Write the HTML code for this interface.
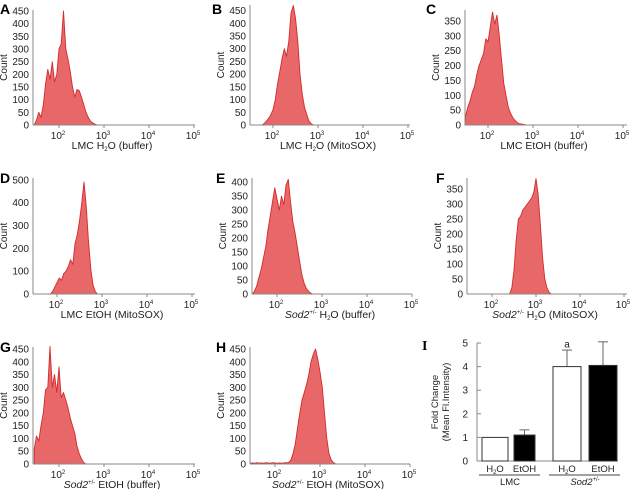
<!DOCTYPE html>
<html><head><meta charset="utf-8"><style>
html,body{margin:0;padding:0;background:#fff}
svg{display:block;font-family:"Liberation Sans",Arial,sans-serif}
</style></head><body>
<svg id="fig" width="630" height="489" viewBox="0 0 630 489"></svg>
<script>
// ---- histogram data (log10 bins, width 0.05) ----
const startA = 1.45;
const countsA = [0,20,50,30,80,160,220,180,250,170,200,300,320,450,300,260,210,150,110,140,135,110,80,50,30,15,8,3,0];
const startB = 1.75;
const countsB = [0,5,15,25,40,60,100,160,210,260,300,270,330,440,470,420,330,200,120,70,40,15,5,0];
const startC = 1.45;
const countsC = [10,30,60,80,110,130,170,200,220,240,290,280,330,380,340,370,300,220,140,100,60,40,25,15,8,4,3,2,0];
const startD = 1.85;
const countsD = [0,10,30,50,70,60,90,100,120,150,130,220,260,320,400,490,380,230,110,40,10,0];
const startE = 1.45;
const countsE = [0,10,30,60,90,130,170,230,280,330,380,340,300,350,320,390,410,330,260,220,170,120,70,40,20,10,3,0];
const startF = 2.4;
const countsF = [0,20,80,180,250,260,280,290,300,310,320,340,385,330,230,120,50,20,5,0];
const startG = 1.45;
const countsG = [60,110,90,150,200,290,300,460,300,350,280,380,260,280,250,220,180,150,120,70,40,20,5,0];
const startH = 1.45;
const countsH = [3,4,3,5,3,4,3,5,4,3,5,4,3,4,3,4,5,5,15,40,80,140,200,250,280,310,350,400,430,450,410,360,300,200,100,40,15,5,0];
const yTicksD = [0,100,200,300,400,500];
const yTicksStd = [0,50,100,150,200,250,300,350,400,450];
const xTickExps = [2,3,4,5];

// ---- bar chart data ----
const barGroups = ["LMC","Sod2"];
const barCats = ["H2O","EtOH","H2O","EtOH"];
const barValues = [1.0,1.1,4.0,4.05];
const barErrors = [0,0.22,0.7,1.0];
const barTicks = [0,1,2,3,4,5];

const NS="http://www.w3.org/2000/svg";
const svg=document.getElementById('fig');
function mk(tag,attrs,parent){const e=document.createElementNS(NS,tag);for(const k in attrs)e.setAttribute(k,attrs[k]);(parent||svg).appendChild(e);return e;}

const panels=[
 {id:'a',L:'A',lx:0,ly:14,ax:33,x2:59,dec:45,right:195,y0:125,yt:10,ymax:454,ticks:yTicksStd,tmax:450,start:startA,data:countsA,t:['LMC ','H2O',' (buffer)'],sod:false},
 {id:'b',L:'B',lx:212,ly:14,ax:250,x2:273,dec:45,right:410,y0:125,yt:5,ymax:472,ticks:yTicksStd,tmax:450,start:startB,data:countsB,t:['LMC ','H2O',' (MitoSOX)'],sod:false},
 {id:'c',L:'C',lx:426,ly:14,ax:465,x2:488,dec:45,right:627,y0:125,yt:10,ymax:387,ticks:yTicksStd,tmax:350,start:startC,data:countsC,t:['LMC EtOH (buffer)'],sod:false},
 {id:'d',L:'D',lx:0,ly:183,ax:33,x2:57,dec:45,right:195,y0:294,yt:178,ymax:508,ticks:yTicksD,tmax:500,start:startD,data:countsD,t:['LMC EtOH (MitoSOX)'],sod:false},
 {id:'e',L:'E',lx:216,ly:183,ax:252,x2:277,dec:45,right:412,y0:294,yt:178,ymax:415,ticks:yTicksStd,tmax:400,start:startE,data:countsE,t:['H2O',' (buffer)'],sod:true},
 {id:'f',L:'F',lx:436,ly:183,ax:467,x2:492,dec:44,right:627,y0:294,yt:178,ymax:387,ticks:yTicksStd,tmax:350,start:startF,data:countsF,t:['H2O',' (MitoSOX)'],sod:true},
 {id:'g',L:'G',lx:0,ly:352,ax:33,x2:59,dec:45,right:195,y0:464,yt:347,ymax:458,ticks:yTicksStd,tmax:450,start:startG,data:countsG,t:['EtOH (buffer)'],sod:true},
 {id:'h',L:'H',lx:216,ly:352,ax:250,x2:275,dec:45,right:410,y0:464,yt:347,ymax:458,ticks:yTicksStd,tmax:450,start:startH,data:countsH,t:['EtOH (MitoSOX)'],sod:true}
];

panels.forEach(p=>{
 const g=mk('g',{});
 
 
 const xs=lg=>p.x2+(lg-2)*p.dec;
 const ys=v=>p.y0-(v/p.ymax)*(p.y0-p.yt);
 const lab=mk('text',{x:p.lx,y:p.ly,'font-size':14,'font-weight':'bold',fill:'#000'},g);
 lab.textContent=p.L;
 
 
 let pts=[];
 const x0=Math.max(p.ax,xs(p.start));
 pts.push(x0+','+p.y0);
 p.data.forEach((v,i)=>{const lg=p.start+i*0.05;const x=xs(lg);if(x>=p.ax)pts.push(x.toFixed(1)+','+ys(v).toFixed(1));});
 pts.push(xs(p.start+(p.data.length-1)*0.05).toFixed(1)+','+p.y0);
 const poly=mk('polygon',{points:pts.join(' '),fill:'#e8686a',stroke:'#d42a2a','stroke-width':0.9,'stroke-linejoin':'round'},g);
 
 
 const yax=mk('line',{x1:p.ax,y1:p.yt,x2:p.ax,y2:p.y0,stroke:'#888','stroke-width':1},g);
 
 
 const xax=mk('line',{x1:p.ax,y1:p.y0,x2:p.right,y2:p.y0,stroke:'#888','stroke-width':1},g);
 
 
 p.ticks.filter(t=>t<=p.tmax).forEach(t=>{
  const tt=mk('text',{x:p.ax-4,y:ys(t)+3.5,'font-size':10,'text-anchor':'end',fill:'#222'},g);
  tt.textContent=t;
  
  
 });
 xTickExps.forEach(e=>{
  const x=xs(e);
  mk('line',{x1:x,y1:p.y0,x2:x,y2:p.y0+3,stroke:'#888'},g);
  const tt=mk('text',{x:x-1,y:p.y0+14,'font-size':10,'text-anchor':'middle',fill:'#222'},g);
  
  
  tt.appendChild(document.createTextNode('10'));
  const s=mk('tspan',{'font-size':6,dy:-4},tt);s.textContent=e;
 });
 const ct=mk('text',{x:0,y:0,'font-size':10,'text-anchor':'middle',fill:'#222',transform:`translate(${p.ax-26},${(p.yt+p.y0)/2}) rotate(-90)`},g);
 ct.textContent='Count';
 
 
 const tt=mk('text',{x:(p.ax+p.right)/2-2,y:p.y0+24,'font-size':10.5,'text-anchor':'middle',fill:'#222'},g);
 
 
 if(p.sod){
  const a=mk('tspan',{'font-style':'italic'},tt);a.textContent='Sod2';
  const b=mk('tspan',{'font-size':6,dy:-4},tt);b.textContent='+/-';
  const c=mk('tspan',{dy:4},tt);c.textContent='\u00a0';
 }
 p.t.forEach(s=>{
  if(s==='H2O'){
   const h=mk('tspan',{},tt);h.textContent='H';
   const two=mk('tspan',{'font-size':6,dy:2},tt);two.textContent='2';
   const o=mk('tspan',{dy:-2},tt);o.textContent='O';
  } else {const s1=mk('tspan',{},tt);s1.textContent=s;}
 });
});

// ---- bar chart ----
(function(){
 const g=mk('g',{});
 
 
 const ax=477,y0=461,y5=343,right=618;
 const ys=v=>y0-v*(y0-y5)/5;
 const xl=[482,514,553,589],bw=[26,21,28,28];
 const lab=mk('text',{x:422,y:350,'font-size':14,'font-weight':'bold','font-family':'Liberation Serif,serif',fill:'#000'},g);
 lab.textContent='I';
 
 
 mk('line',{x1:ax,y1:ys(5),x2:ax,y2:y0,stroke:'#888'},g);
 mk('line',{x1:ax,y1:y0,x2:right,y2:y0,stroke:'#888'},g);
 barTicks.forEach(t=>{
  mk('line',{x1:ax,y1:ys(t),x2:ax+4,y2:ys(t),stroke:'#888'},g);
  const tt=mk('text',{x:ax-9,y:ys(t)+3.5,'font-size':10,'text-anchor':'end',fill:'#222'},g);
  tt.textContent=t;
  
  
 });
 barValues.forEach((v,i)=>{
  const x=xl[i],w=bw[i],c=i%2?'#000':'#fff';
  if(barErrors[i]>0){
   mk('line',{x1:x+w/2,y1:ys(v),x2:x+w/2,y2:ys(v+barErrors[i]),stroke:'#666'},g);
   mk('line',{x1:x+w/2-5,y1:ys(v+barErrors[i]),x2:x+w/2+5,y2:ys(v+barErrors[i]),stroke:'#666'},g);
  }
  const r=mk('rect',{x:x,y:ys(v),width:w,height:y0-ys(v),fill:c,stroke:'#333','stroke-width':1},g);
  
  
  const t=mk('text',{x:x+w/2,y:y0+11,'font-size':9.5,'text-anchor':'middle',fill:'#222'},g);
  
  
  if(barCats[i]==='H2O'){t.appendChild(document.createTextNode('H'));const s=mk('tspan',{'font-size':6,dy:2},t);s.textContent='2';const o=mk('tspan',{dy:-2},t);o.textContent='O';}
  else t.textContent=barCats[i];
 });
 const a=mk('text',{x:567,y:ys(4.8),'font-size':10,'text-anchor':'middle',fill:'#222'},g);
 a.textContent='a';
 
 
 mk('line',{x1:479,y1:475,x2:540,y2:475,stroke:'#444'},g);
 mk('line',{x1:549,y1:475,x2:620,y2:475,stroke:'#444'},g);
 const l1=mk('text',{x:510,y:485,'font-size':9.5,'text-anchor':'middle',fill:'#222'},g);
 l1.textContent='LMC';
 
 
 const l2=mk('text',{x:585,y:485,'font-size':9.5,'text-anchor':'middle',fill:'#222'},g);
 
 
 const i1=mk('tspan',{'font-style':'italic'},l2);i1.textContent='Sod2';
 const i2=mk('tspan',{'font-size':6,dy:-4},l2);i2.textContent='+/-';
 const yt=mk('text',{x:0,y:0,'font-size':9.5,'text-anchor':'middle',fill:'#222',transform:'translate(438,402) rotate(-90)'},g);
 
 
 const t1=mk('tspan',{x:0,dy:0},yt);t1.textContent='Fold Change';
 const t2=mk('tspan',{x:0,dy:11},yt);t2.textContent='(Mean Fl.Intensity)';
})();
</script>
</body></html>
